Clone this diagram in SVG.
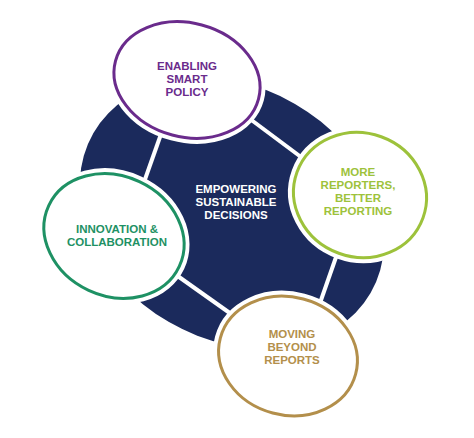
<svg xmlns="http://www.w3.org/2000/svg" width="474" height="438" viewBox="0 0 474 438">
<style>
.halo{fill:#fff;stroke:#fff;stroke-width:11}
.ring{fill:#fff;stroke-width:3}
.t{font-family:"Liberation Sans",Arial,sans-serif;font-weight:bold;font-size:11.5px;text-anchor:middle}
.sep{stroke:#fff;stroke-width:4;stroke-linecap:butt}
</style>
<rect width="474" height="438" fill="#fff"/>
<g id="hub">
<ellipse cx="232" cy="213" rx="160" ry="126" transform="rotate(30 232 213)" fill="#1b2a5c"/>
</g>
<g id="connectors">
<line class="sep" x1="166" y1="120" x2="143" y2="185"/>
<line class="sep" x1="238" y1="110" x2="305" y2="160"/>
<line class="sep" x1="342" y1="240" x2="320" y2="303"/>
<line class="sep" x1="172" y1="272" x2="234" y2="316"/>
</g>
<g id="center-label">
<text class="t" fill="#fff" x="236" y="193">EMPOWERING</text>
<text class="t" fill="#fff" x="236" y="206">SUSTAINABLE</text>
<text class="t" fill="#fff" x="236" y="219">DECISIONS</text>
</g>
<g id="enabling-smart-policy">
<ellipse class="halo" cx="187" cy="80" rx="74" ry="57" transform="rotate(15 187 80)"/>
<ellipse class="ring" cx="187" cy="80" rx="74" ry="57" transform="rotate(15 187 80)" stroke="#6a2b8c"/>
<text class="t" fill="#6a2b8c" x="187" y="70">ENABLING</text>
<text class="t" fill="#6a2b8c" x="187" y="83">SMART</text>
<text class="t" fill="#6a2b8c" x="187" y="96">POLICY</text>
</g>
<g id="more-reporters">
<ellipse class="halo" cx="360" cy="195" rx="67" ry="62" transform="rotate(20 360 195)"/>
<ellipse class="ring" cx="360" cy="195" rx="67" ry="62" transform="rotate(20 360 195)" stroke="#9dc23b"/>
<text class="t" fill="#9dc23b" x="358" y="176">MORE</text>
<text class="t" fill="#9dc23b" x="358" y="189">REPORTERS,</text>
<text class="t" fill="#9dc23b" x="358" y="202">BETTER</text>
<text class="t" fill="#9dc23b" x="358" y="215">REPORTING</text>
</g>
<g id="innovation-collaboration">
<ellipse class="halo" cx="114" cy="236" rx="72" ry="60" transform="rotate(25 114 236)"/>
<ellipse class="ring" cx="114" cy="236" rx="72" ry="60" transform="rotate(25 114 236)" stroke="#1e9164"/>
<text class="t" fill="#1e9164" x="117" y="233">INNOVATION &amp;</text>
<text class="t" fill="#1e9164" x="117" y="246">COLLABORATION</text>
</g>
<g id="moving-beyond-reports">
<ellipse class="halo" cx="288" cy="356" rx="70" ry="59" transform="rotate(15 288 356)"/>
<ellipse class="ring" cx="288" cy="356" rx="70" ry="59" transform="rotate(15 288 356)" stroke="#b38f4b"/>
<text class="t" fill="#b38f4b" x="292" y="338">MOVING</text>
<text class="t" fill="#b38f4b" x="292" y="351">BEYOND</text>
<text class="t" fill="#b38f4b" x="292" y="364">REPORTS</text>
</g>
</svg>
